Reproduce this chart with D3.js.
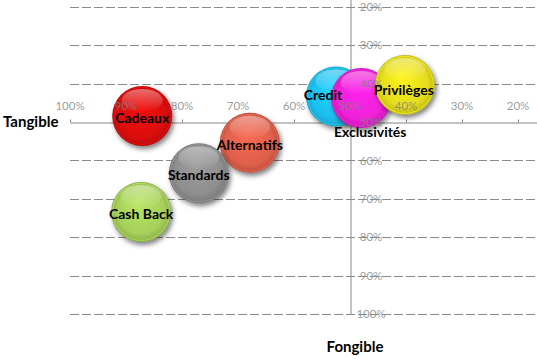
<!DOCTYPE html>
<html>
<head>
<meta charset="utf-8">
<script src="https://cdn.jsdelivr.net/npm/d3@7"></script>
<style>
html,body{margin:0;padding:0;background:#fff;}
svg{display:block;}
</style>
</head>
<body>
<svg id="chart" width="537" height="359"></svg>
<script>
// ---- data ----
const names = ["Cadeaux", "Alternatifs", "Standards", "Cash Back", "Credit", "Exclusivités", "Privilèges"];
const tangibility = [0.871, 0.679, 0.770, 0.873, 0.525, 0.480, 0.402];  // x (horizontal, reversed)
const fungibility = [0.484, 0.554, 0.633, 0.734, 0.433, 0.437, 0.403];  // y (vertical, reversed)
const sizes = [1, 1, 1, 1, 1, 1, 1];
const colors = ["#dc0a0a", "#e0604c", "#8e8e8e", "#a6d05a", "#1ec0f0", "#f020d8", "#e4dc1c"];
const xTicks = [1.0, 0.9, 0.8, 0.7, 0.6, 0.5, 0.4, 0.3, 0.2];
const yTicks = [0.2, 0.3, 0.4, 0.5, 0.6, 0.7, 0.8, 0.9, 1.0];
const xTitle = "Tangible";
const yTitle = "Fongible";

// ---- layout ----
const svg = d3.select("#chart");
const x = d3.scaleLinear().domain([1.0, 0.1]).range([70, 574]);
const y = d3.scaleLinear().domain([0.1, 1.0]).range([-31.4, 314]);
const r = d3.scaleSqrt().domain([0, 1]).range([0, 30]);
const fmt = d3.format(".0%");
const labelOffset = {"Credit": [-13, -3], "Exclusivités": [9, 32], "Privilèges": [-1, 3]};

const defs = svg.append("defs");
const f = defs.append("filter").attr("id", "shadow").attr("x", "-30%").attr("y", "-30%").attr("width", "170%").attr("height", "170%");
f.append("feDropShadow").attr("dx", 2).attr("dy", 3).attr("stdDeviation", 2.5)
  .attr("flood-color", "#000").attr("flood-opacity", 0.5);

colors.forEach((c, i) => {
  const g = defs.append("radialGradient").attr("id", "g" + i)
    .attr("cx", "50%").attr("cy", "50%").attr("r", "50%")
    .attr("fx", "45%").attr("fy", "35%");
  const base = d3.color(c);
  g.append("stop").attr("offset", "0%").attr("stop-color", base.brighter(0.3));
  g.append("stop").attr("offset", "78%").attr("stop-color", base);
  g.append("stop").attr("offset", "92%").attr("stop-color", base.darker(0.3));
  g.append("stop").attr("offset", "100%").attr("stop-color", base.darker(0.7));
  const h = defs.append("linearGradient").attr("id", "h" + i)
    .attr("x1", 0).attr("y1", 0).attr("x2", 0).attr("y2", 1);
  h.append("stop").attr("offset", "0%").attr("stop-color", "#fff").attr("stop-opacity", 0.4);
  h.append("stop").attr("offset", "100%").attr("stop-color", "#fff").attr("stop-opacity", 0);
});

// gridlines
svg.append("g").selectAll("line").data(yTicks.filter(d => d !== 0.5)).join("line")
  .attr("x1", x(1.0)).attr("x2", 537)
  .attr("y1", d => Math.round(y(d)) + 0.5).attr("y2", d => Math.round(y(d)) + 0.5)
  .attr("stroke", "#8a8a8a").attr("stroke-width", 1).attr("stroke-dasharray", "9,3");

// axes lines
const xAxis = svg.append("g").attr("transform", `translate(0,${Math.round(y(0.5)) + 0.5})`)
  .call(d3.axisTop(x).tickValues(xTicks).tickFormat(fmt).tickSize(3).tickPadding(9).tickSizeOuter(0));
xAxis.select(".domain").attr("stroke", "#868686");
xAxis.selectAll(".tick line").attr("stroke", "#868686");
xAxis.selectAll(".tick text").remove();

const yAxis = svg.append("g").attr("transform", `translate(${Math.round(x(0.5)) + 0.5},0)`)
  .call(d3.axisRight(y).tickValues(yTicks).tickFormat(fmt).tickSize(0).tickPadding(20).tickSizeOuter(0));
yAxis.select(".domain").attr("stroke", "#868686");
yAxis.selectAll(".tick text").remove();

// bubbles
const data = names.map((n, i) => ({name: n, x: tangibility[i], y: fungibility[i], s: sizes[i], i}));
const bub = svg.append("g").selectAll("g").data(data).join("g")
  .attr("transform", d => `translate(${x(d.x)},${y(d.y)})`);
bub.append("circle").attr("r", d => r(d.s)).attr("fill", d => `url(#g${d.i})`)
  .attr("filter", "url(#shadow)");
bub.append("circle").attr("r", d => r(d.s) - 1.5).attr("fill", "none")
  .attr("stroke", d => d3.color(colors[d.i]).brighter(0.4)).attr("stroke-width", 1.2).attr("stroke-opacity", 0.6);
bub.append("ellipse").attr("cx", 0).attr("cy", d => -r(d.s) * 0.52)
  .attr("rx", d => r(d.s) * 0.68).attr("ry", d => r(d.s) * 0.38)
  .attr("fill", d => `url(#h${d.i})`);

// tick labels (drawn over bubbles)
const tickFont = "Lato, 'Open Sans', sans-serif";
svg.append("g").selectAll("text").data(xTicks).join("text")
  .attr("x", d => x(d)).attr("y", y(0.5) - 12)
  .attr("text-anchor", "middle").attr("font-family", tickFont).attr("font-size", 11.5)
  .attr("fill", "#7f7f7f").attr("fill-opacity", 0.8).text(fmt);
svg.append("g").selectAll("text").data(yTicks).join("text")
  .attr("x", x(0.5) + 21).attr("y", d => y(d)).attr("dy", "0.35em")
  .attr("text-anchor", "middle").attr("font-family", tickFont).attr("font-size", 11.5)
  .attr("fill", "#7f7f7f").attr("fill-opacity", 0.8).text(fmt);

// data labels
svg.append("g").selectAll("text").data(data).join("text")
  .attr("x", d => x(d.x) + (labelOffset[d.name] || [0, 0])[0])
  .attr("y", d => y(d.y) + (labelOffset[d.name] || [0, 0])[1] + 2)
  .attr("dy", "0.35em").attr("text-anchor", "middle")
  .attr("font-family", "Lato, sans-serif").attr("font-weight", "bold").attr("font-size", 14)
  .attr("fill", "#000").text(d => d.name);

// axis titles
svg.append("text").attr("x", 3).attr("y", y(0.5)).attr("dy", "0.35em")
  .attr("font-family", "Lato, sans-serif").attr("font-weight", "bold").attr("font-size", 15)
  .text(xTitle);
svg.append("text").attr("x", 355).attr("y", 347).attr("dy", "0.35em").attr("text-anchor", "middle")
  .attr("font-family", "Lato, sans-serif").attr("font-weight", "bold").attr("font-size", 15)
  .text(yTitle);
</script>
</body>
</html>
